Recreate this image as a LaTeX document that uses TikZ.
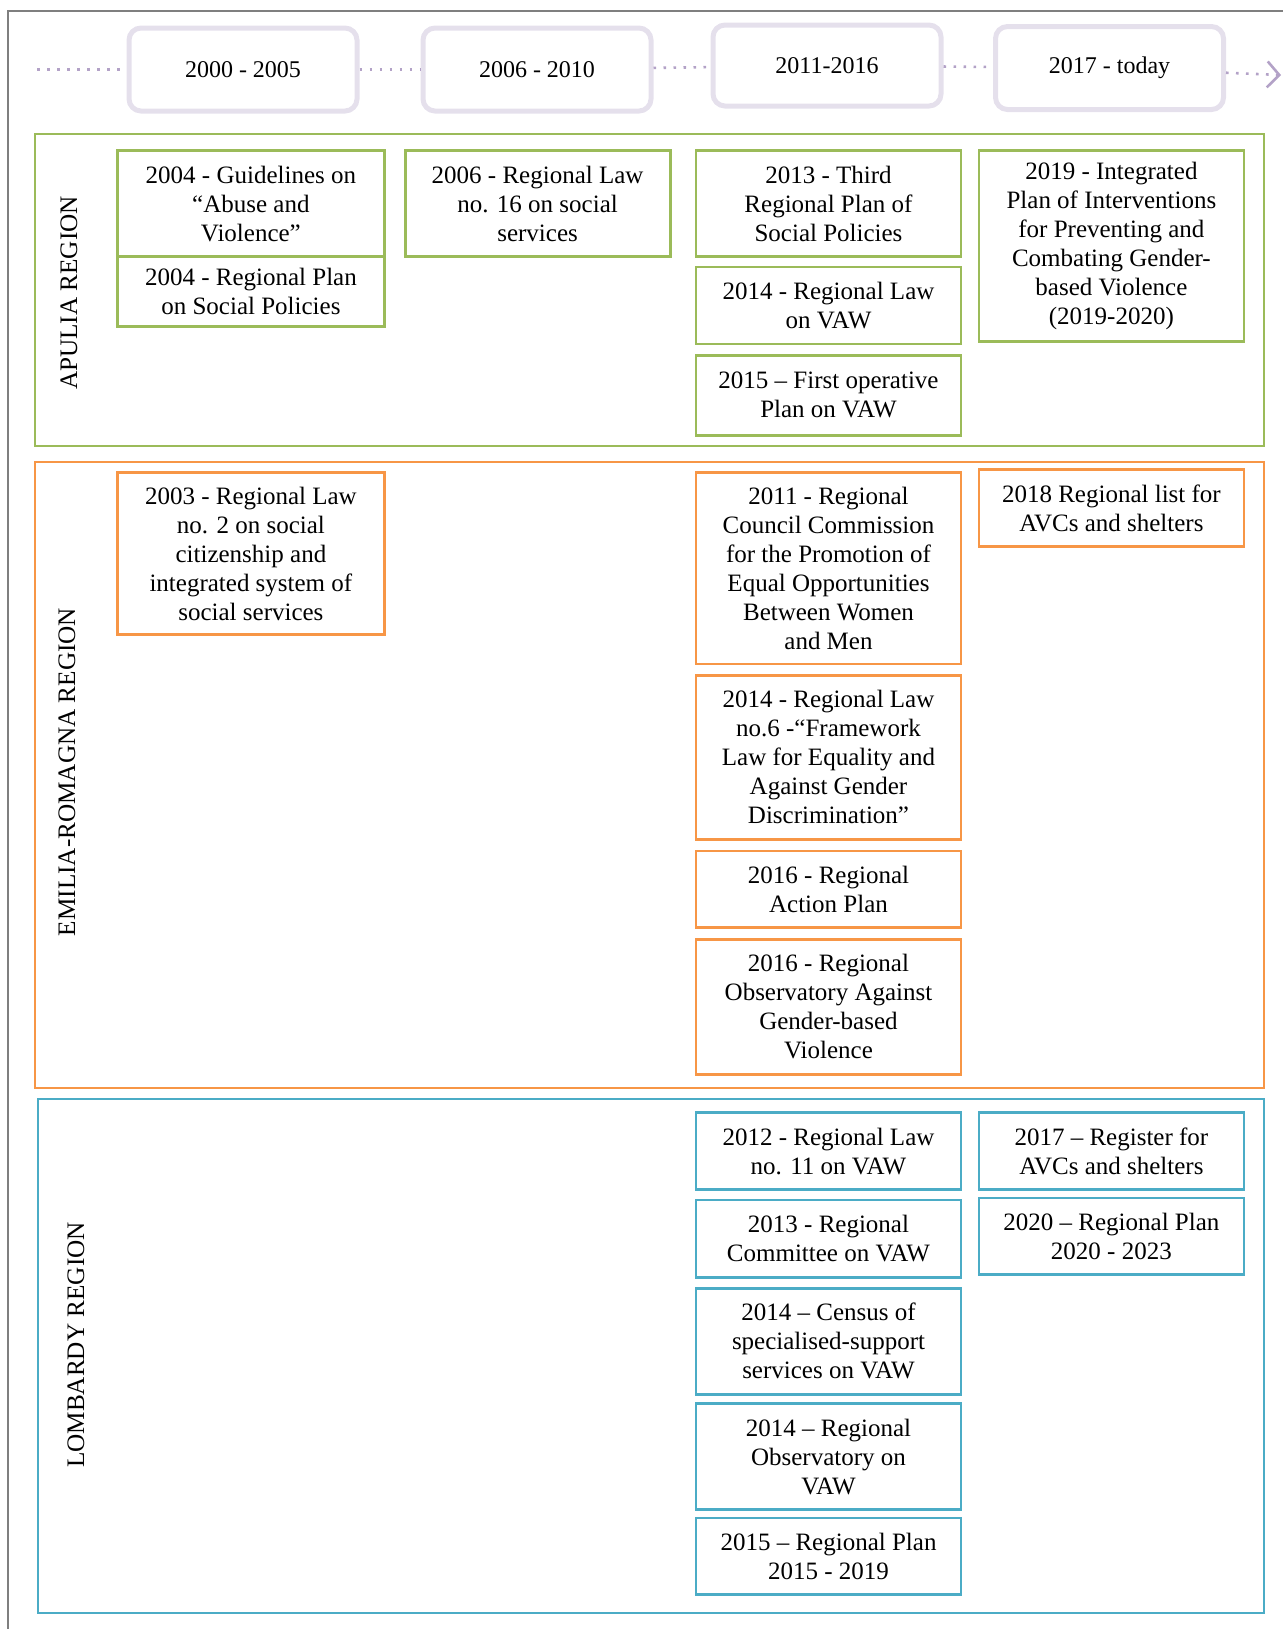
\documentclass[tikz,border=0pt]{standalone}
\usepackage{fontspec}
\setmainfont{Liberation Serif}
\usetikzlibrary{arrows.meta}
\definecolor{apulia}{HTML}{9BBB59}
\definecolor{emilia}{HTML}{F79646}
\definecolor{lombardy}{HTML}{4BACC6}
\definecolor{lavender}{HTML}{E5E0EC}
\definecolor{dotpurple}{HTML}{B3A2C7}
\definecolor{framegray}{HTML}{7F7F7F}
\tikzset{
    every node/.style={inner sep=0mm, align=center, font=\fontsize{12.5}{14.5}\selectfont}
}
\tikzset{
    yearbox/.style={draw=lavender, line width=2.5pt, rounded corners=6pt,
        minimum width=114pt, minimum height=41.5pt, font=\fontsize{12}{14}\selectfont},
    evbox/.style={draw=#1, line width=1.4pt, minimum width=132.5pt},
    regionlabel/.style={rotate=90, font=\fontsize{12.6}{14}\selectfont},
    regionframe/.style={draw=#1, line width=1.3pt},
    dotline/.style={dotpurple, line width=1.3pt, dash pattern=on 1.3pt off 3.7pt}
}

\begin{document}
\begin{tikzpicture}[x=0.5pt, y=-0.5pt]
    \useasboundingbox (0,0) rectangle (1283,1629);
    \draw[framegray, line width=1pt] (8,1629) -- (8,11) -- (1283,11);

    \node (y1) at (243, 69.5) [yearbox] {2000 - 2005};
    \node (y2) at (537, 69.5) [yearbox] {2006 - 2010};
    \node (y3) at (827, 65.5) [yearbox, minimum height=40.5pt] {2011-2016};
    \node (y4) at (1109.5, 68) [yearbox] {2017 - today};
    \coordinate (ystart) at (37, 69.5);
    \coordinate (yend) at (1281, 75);

    \draw[dotline] (ystart) -- (y1);
    \draw[dotline] (y1) -- (y2);
    \draw[dotline] (y2) -- (y3);
    \draw[dotline] (y3) -- (y4);
    \draw[dotline, -{Straight Barb[length=6pt, width=13pt, line width=1.3pt]}] (y4) -- (yend);

    \draw[regionframe=apulia] (35,134) rectangle (1264,446);
    \draw[regionframe=emilia] (35,462) rectangle (1264,1088);
    \draw[regionframe=lombardy] (38,1099) rectangle (1264,1613);

    \node (apl) at (69, 293) [regionlabel] {APULIA REGION};
    \node (eml) at (67, 772) [regionlabel] {EMILIA-ROMAGNA REGION};
    \node (lml) at (76, 1345) [regionlabel] {LOMBARDY REGION};

    \node (a1) at (250.9, 203.6) [evbox=apulia, minimum width=133.5pt, minimum height=53pt] {2004 - Guidelines on\\``Abuse and\\Violence''};
    \node (a2) at (250.9, 291.4) [evbox=apulia, minimum width=133.5pt, minimum height=34.8pt] {2004 - Regional Plan\\on Social Policies};
    \node (a3) at (537.6, 203.6) [evbox=apulia, minimum height=53pt] {2006 - Regional Law\\no. 16 on social\\services};
    \node (a4) at (828.5, 203.6) [evbox=apulia, minimum height=53pt] {2013 - Third\\Regional Plan of\\Social Policies};
    \node (a5) at (828.5, 305.5) [evbox=apulia, minimum height=38.5pt] {2014 - Regional Law\\on VAW};
    \node (a6) at (828.5, 395.3) [evbox=apulia, minimum height=40pt] {2015 -- First operative\\Plan on VAW};
    \node (a7) at (1111.4, 246.2) [evbox=apulia, minimum height=95.6pt] {2019 - Integrated\\Plan of Interventions\\for Preventing and\\Combating Gender-\\based Violence\\(2019-2020)};

    \node (e1) at (250.9, 553.8) [evbox=emilia, minimum width=133.5pt, minimum height=81pt] {2003 - Regional Law\\no. 2 on social\\citizenship and\\integrated system of\\social services};
    \node (e2) at (828.5, 568.3) [evbox=emilia, minimum height=95.6pt] {2011 - Regional\\Council Commission\\for the Promotion of\\Equal Opportunities\\Between Women\\and Men};
    \node (e3) at (828.5, 757.4) [evbox=emilia, minimum height=82pt] {2014 - Regional Law\\no.6 -``Framework\\Law for Equality and\\Against Gender\\Discrimination''};
    \node (e4) at (828.5, 889.3) [evbox=emilia, minimum height=38.4pt] {2016 - Regional\\Action Plan};
    \node (e5) at (828.5, 1006.7) [evbox=emilia, minimum height=67.5pt] {2016 - Regional\\Observatory Against\\Gender-based\\Violence};
    \node (e6) at (1111.4, 508) [evbox=emilia, minimum height=38.5pt] {2018 Regional list for\\AVCs and shelters};

    \node (l1) at (828.5, 1151.1) [evbox=lombardy, minimum height=38.4pt] {2012 - Regional Law\\no. 11 on VAW};
    \node (l2) at (828.5, 1238.9) [evbox=lombardy, minimum height=38.9pt] {2013 - Regional\\Committee on VAW};
    \node (l3) at (828.5, 1341.2) [evbox=lombardy, minimum height=53pt] {2014 -- Census of\\specialised-support\\services on VAW};
    \node (l4) at (828.5, 1456.5) [evbox=lombardy, minimum height=53pt] {2014 -- Regional\\Observatory on\\VAW};
    \node (l5) at (828.5, 1556.3) [evbox=lombardy, minimum height=38.4pt] {2015 -- Regional Plan\\2015 - 2019};
    \node (l6) at (1111.4, 1151.1) [evbox=lombardy, minimum height=38.4pt] {2017 -- Register for\\AVCs and shelters};
    \node (l7) at (1111.4, 1236.3) [evbox=lombardy, minimum height=38.4pt] {2020 -- Regional Plan\\2020 - 2023};
\end{tikzpicture}
\end{document}
